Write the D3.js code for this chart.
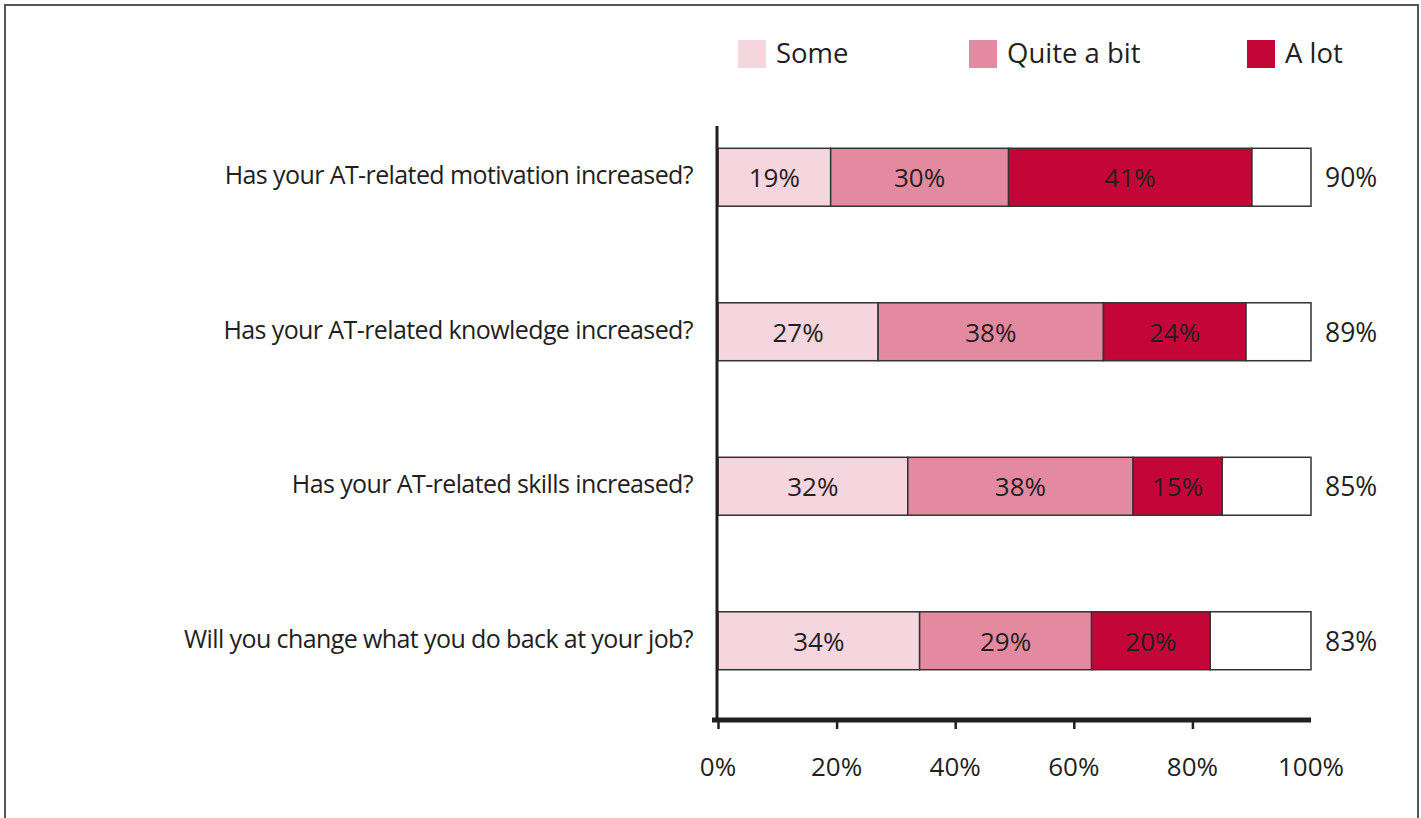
<!DOCTYPE html>
<html>
<head>
<meta charset="utf-8">
<script src="https://cdn.jsdelivr.net/npm/d3@7"></script>
<style>
  body { margin: 0; background: #fff; }
  svg text { font-family: "Open Sans", sans-serif; fill: #231f20; }
</style>
</head>
<body>
<svg id="chart" width="1421" height="818"></svg>
<script>
// survey answers, percent of respondents
const questions = [
    "Has your AT-related motivation increased?",
    "Has your AT-related knowledge increased?",
    "Has your AT-related skills increased?",
    "Will you change what you do back at your job?"
];
const levels = ["Some", "Quite a bit", "A lot"];
const some = [19, 27, 32, 34];
const quiteABit = [30, 38, 38, 29];
const aLot = [41, 24, 15, 20];
const totals = [90, 89, 85, 83];
const tickValues = [0, 20, 40, 60, 80, 100];

const colors = ["#f5d5de", "#e38aa0", "#c30637"];

const svg = d3.select("#chart");

// frame round the whole figure
svg.append("rect")
    .attr("x", 5).attr("y", 5)
    .attr("width", 1413).attr("height", 840)
    .attr("fill", "none")
    .attr("stroke", "#555")
    .attr("stroke-width", 2);

const x = d3.scaleLinear().domain([0, 100]).range([718, 1311]);
const y = d3.scaleBand().domain(questions).range([100, 718])
    .paddingInner(0.625).paddingOuter(0.3125);

const rows = questions.map((q, i) => {
    let acc = 0;
    const segs = [some[i], quiteABit[i], aLot[i]].map((v, j) => {
        const s = {q: q, level: levels[j], v: v, x0: acc, x1: acc + v, color: colors[j]};
        acc += v;
        return s;
    });
    return {q: q, segs: segs, total: totals[i]};
});

// white remainder up to 100%
svg.append("g").selectAll("rect")
    .data(rows)
    .join("rect")
    .attr("x", d => x(d.total))
    .attr("y", d => y(d.q))
    .attr("width", d => x(100) - x(d.total))
    .attr("height", y.bandwidth())
    .attr("fill", "#fff")
    .attr("stroke", "#333")
    .attr("stroke-width", 1.5);

const seg = svg.append("g").selectAll("g")
    .data(rows.flatMap(r => r.segs))
    .join("g");

seg.append("rect")
    .attr("x", d => x(d.x0))
    .attr("y", d => y(d.q))
    .attr("width", d => x(d.x1) - x(d.x0))
    .attr("height", y.bandwidth())
    .attr("fill", d => d.color)
    .attr("stroke", "#333")
    .attr("stroke-width", 1.5);

seg.append("text")
    .attr("x", d => (x(d.x0) + x(d.x1)) / 2)
    .attr("y", d => y(d.q) + y.bandwidth() / 2 + 10)
    .attr("text-anchor", "middle")
    .attr("font-size", 26)
    .text(d => d.v + "%");

// totals at the right
svg.append("g").selectAll("text")
    .data(rows)
    .join("text")
    .attr("x", 1325)
    .attr("y", d => y(d.q) + y.bandwidth() / 2 + 10)
    .attr("font-size", 26.5)
    .text(d => d.total + "%");

// question labels
svg.append("g").selectAll("text")
    .data(questions)
    .join("text")
    .attr("x", 693)
    .attr("y", d => y(d) + y.bandwidth() / 2 + 7)
    .attr("text-anchor", "end")
    .attr("font-size", 25)
    .attr("letter-spacing", -0.6)
    .text(d => d);

// vertical axis line
svg.append("line")
    .attr("x1", 717).attr("x2", 717)
    .attr("y1", 126).attr("y2", 720)
    .attr("stroke", "#231f20")
    .attr("stroke-width", 3);

// bottom axis
const xAxis = svg.append("g")
    .attr("transform", "translate(0,720)")
    .call(d3.axisBottom(x).tickValues(tickValues.slice(0, -1)).tickSize(9).tickFormat(d => d + "%"));
xAxis.select(".domain").remove();
xAxis.selectAll(".tick line").attr("stroke", "#231f20").attr("stroke-width", 2.5);
xAxis.selectAll(".tick text").remove();
xAxis.append("line")
    .attr("x1", 712).attr("x2", x(100))
    .attr("stroke", "#231f20")
    .attr("stroke-width", 5);

svg.append("g").selectAll("text")
    .data(tickValues)
    .join("text")
    .attr("x", d => x(d))
    .attr("y", 776)
    .attr("text-anchor", "middle")
    .attr("font-size", 26)
    .text(d => d + "%");

// legend
const legendX = [738, 969, 1247];
const legend = svg.append("g").selectAll("g")
    .data(levels)
    .join("g")
    .attr("transform", (d, i) => `translate(${legendX[i]},40)`);
legend.append("rect")
    .attr("width", 28).attr("height", 28)
    .attr("fill", (d, i) => colors[i]);
legend.append("text")
    .attr("x", 38).attr("y", 23)
    .attr("font-size", 27.5)
    .text(d => d);
</script>
</body>
</html>
